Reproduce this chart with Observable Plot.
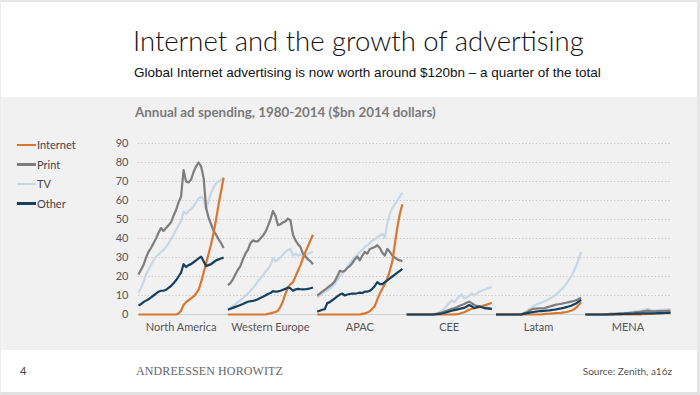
<!DOCTYPE html>
<html><head><meta charset="utf-8">
<script src="https://cdn.jsdelivr.net/npm/d3@7"></script>
<script src="https://cdn.jsdelivr.net/npm/@observablehq/plot@0.6"></script>
<style>
html,body{margin:0;padding:0;background:#fff;}
#slide{position:relative;width:700px;height:395px;overflow:hidden;background:#fff;}
#frame{position:absolute;left:0;top:0;width:700px;height:395px;box-sizing:border-box;border-top:2px solid #e6e6e6;border-left:1px solid #ececec;border-right:3px solid #e6e6e6;border-bottom:3px solid #e2e2e2;pointer-events:none;}
#title{position:absolute;left:133px;top:27px;font-family:Lato,"Open Sans",sans-serif;font-weight:300;font-size:27.5px;color:#111;line-height:1;white-space:nowrap;}
#subtitle{position:absolute;left:134px;top:66px;font-family:"Liberation Sans",Arial,sans-serif;font-size:13.5px;color:#111;line-height:1;white-space:nowrap;}
#band{position:absolute;left:0;top:97px;width:700px;height:253px;background:#f1f1f1;}
#ctitle{position:absolute;left:135px;top:106px;font-family:Lato,sans-serif;font-weight:700;font-size:13.4px;color:#7a7a7a;line-height:1;white-space:nowrap;}
#legend{position:absolute;left:17px;top:135px;font-family:Lato,sans-serif;font-size:11px;color:#444;}
#legend .item{display:flex;align-items:center;height:19.5px;}
#legend .sw{width:19px;height:2.5px;margin-right:1px;}
#chart{position:absolute;left:0;top:130px;}
#pnum{position:absolute;left:20px;top:364px;font-family:Lato,sans-serif;font-size:11px;color:#444;}
#brand{position:absolute;left:136px;top:364px;font-family:"Liberation Serif","DejaVu Serif",serif;font-size:12px;letter-spacing:0.1px;color:#666;white-space:nowrap;}
#source{position:absolute;right:28px;top:365px;font-family:Lato,sans-serif;font-size:10px;color:#555;white-space:nowrap;}
</style></head>
<body>
<div id="slide">
  <div id="band"></div>
  <div id="title">Internet and the growth of advertising</div>
  <div id="subtitle">Global Internet advertising is now worth around $120bn – a quarter of the total</div>
  <div id="ctitle">Annual ad spending, 1980-2014 ($bn 2014 dollars)</div>
  <div id="legend"></div>
  <div id="chart"></div>
  <div id="pnum">4</div>
  <div id="brand">ANDREESSEN HOROWITZ</div>
  <div id="source">Source: Zenith, a16z</div>
  <div id="frame"></div>
</div>
<script>
const regions = ["North America", "Western Europe", "APAC", "CEE", "Latam", "MENA"];
const seriesNames = ["Internet", "Print", "TV", "Other"];
const seriesColors = ["#d8772f", "#7d7d7d", "#c9d6e4", "#17405f"];
const drawOrder = ["TV", "Print", "Internet", "Other"];
const years = [1980,1981,1982,1983,1984,1985,1986,1987,1988,1989,1990,1991,1992,1993,1994,1995,1996,1997,1998,1999,2000,2001,2002,2003,2004,2005,2006,2007,2008,2009,2010,2011,2012,2013,2014];
const yTicks = [0,10,20,30,40,50,60,70,80,90];

// North America
const naInternet = [0,0,0,0,0,0,0,0,0,0,0,0,0,0,0,0,0.5,2,5,6.5,7.5,8.5,9.5,11,13,17,22,27,32,37,43,50,58,65,72];
const naPrint = [21,23.5,26,30,33,35,37.5,40,43,45.5,44,45.5,47,48.5,52,55,59,62,76,70,69.5,71,75,78,80,78,72,56,51,47.5,44,42,39.5,37.5,35];
const naTV = [11.5,14,17,21,23.5,26,28.5,30.5,31.5,33,34,35.5,37.5,39.5,42,44.5,47,49,54,53,54.5,55.5,57,59,61,62,61,55,60,64,67,69,70,71,72];
const naOther = [4.7,5.5,6.5,7.3,8,9,10,11,12,12.5,12.5,13,14,15,16.5,18,20,22,26.5,25,26,26.5,27.5,28.5,29.5,30.5,28,25.5,26,26.5,27.5,28.5,29,29.5,30];
// Western Europe
const weInternet = [0,0,0,0,0,0,0,0,0,0,0,0,0,0,0,0,0.3,0.6,1,1.3,2,4,7,11,14,16,17,20,23,26,29.5,33,36,39,42];
const wePrint = [15.5,16.5,18.5,21,23.5,25.5,29,32,34,37.5,39,38.5,38.5,40,41.5,43.5,46.5,50,54.5,52,47,47.5,48.5,49,50.5,49.5,42,39,37,35.5,32,30.5,29,28,26.5];
const weTV = [3,3.5,4.5,5.5,6.5,7.5,8.5,10,11,12.5,14,15.5,17.5,19,20.5,22.5,24,26,29.5,28,29,30,31.5,33,34,34.5,31,32,31,31.5,30.5,31,32,32.5,33];
const weOther = [2.5,3,3.5,4,4.5,5,5.5,6.2,6.7,7,7.2,7.5,8,8.7,9.3,10,10.8,11.3,12.3,12,12.2,12.5,13,13.5,14.2,13.8,12.5,13.2,13.5,13.3,13.2,13.3,13.5,13.8,14.2];
// APAC
const apInternet = [0,0,0,0,0,0,0,0,0,0,0,0,0,0,0,0,0,0,0.3,0.6,1,1.8,3,4.5,8,11,13.5,16,19,23,28,37,46,53,58];
const apPrint = [10,11,12,13,14,15,16,17.5,20,23,22.5,23,24.5,25.5,27,29,30.5,28.5,31,33,32,34.5,35,35.5,36.5,35,32.5,31,34.5,33,31,30,29,28.5,28];
const apTV = [9,10,11,12,12.5,13.5,14.5,16,18,20,21.5,23,25,27,28.5,30,31.5,33,34,35.5,36.5,37.5,39,39.5,40.5,41.5,42.5,40.5,48,53,56,58,60,62,64];
const apOther = [1.5,2,2.5,2.8,6,6.5,7.5,8.5,9.5,10.5,11,10,10.5,10.8,11,11,11.2,11.5,11.3,12,12,12.5,13.5,15,17,16,16,17,18,19,20,21,22,23,24];
// CEE
const ceeInternet = [0,0,0,0,0,0,0,0,0,0,0,0,0,0,0,0,0,0,0,0.1,0.2,0.4,0.8,1.2,1.8,2.5,3,3.3,3.6,3.9,4.3,4.8,5.2,5.7,6.2];
const ceePrint = [0,0,0,0,0,0,0,0,0,0,0,0.2,0.4,0.7,1,1.5,2,2.5,3,3.3,3.8,4.5,5,5.5,6.2,6.8,6,5,4.5,4.3,4,3.7,3.5,3.2,3];
const ceeTV = [0,0,0,0,0,0,0,0,0,0,0,0.3,0.7,1.2,1.8,3,4.5,6,7.5,6.5,8,9.5,10.5,8.5,9,10,11,10,11,12,12.5,13,13.5,14,14.5];
const ceeOther = [0,0,0,0,0,0,0,0,0,0,0,0,0.2,0.3,0.5,0.8,1.2,1.6,2,2.3,2.6,2.9,3.2,3.5,4.2,5,4.3,3.4,3.8,4.2,3.8,3.4,3.2,3.1,3];
// Latam
const latInternet = [0,0,0,0,0,0,0,0,0,0,0,0,0,0,0,0,0,0,0,0.2,0.3,0.4,0.5,0.6,0.7,0.8,0.9,1.1,1.3,1.6,2,2.6,3.6,5,6.5];
const latPrint = [0,0,0,0,0,0,0,0,0,0,0,0.5,1,1.8,2.5,3,3.1,3.2,3.2,3.3,3.6,4,4.4,4.8,5.2,5.4,5.6,5.9,6.2,6.5,6.8,7.1,7.5,8.2,8.8];
const latTV = [0,0,0,0,0,0,0,0,0,0,0.3,0.8,1.5,2.5,3.5,4.5,5.2,5.8,6.2,6.8,7.3,8,8.8,9.5,10.5,11.7,13,14.4,16,18,20,22.5,25.5,29,33];
const latOther = [0,0,0,0,0,0,0,0,0,0,0,0.3,0.6,0.9,1.1,1.3,1.5,1.7,1.8,1.9,2,2.1,2.3,2.5,2.7,3,3.2,3.5,3.9,4.2,4.6,5.2,5.8,6.8,7.7];
// MENA
const menaInternet = [0,0,0,0,0,0,0,0,0,0,0,0,0,0,0,0,0,0,0,0,0,0.05,0.1,0.15,0.2,0.3,0.35,0.4,0.5,0.6,0.7,0.8,0.9,1,1.2];
const menaPrint = [0,0,0,0,0,0,0,0,0.1,0.2,0.3,0.35,0.4,0.5,0.55,0.6,0.7,0.8,0.9,1,1.1,1.2,1.4,1.6,1.8,2,1.8,1.7,1.7,1.8,1.8,1.8,1.9,1.9,2];
const menaTV = [0,0,0,0,0,0,0,0,0.1,0.2,0.3,0.4,0.5,0.6,0.7,0.8,0.9,1,1.2,1.4,1.6,1.8,2,2.3,2.6,3,2.4,2.1,2.2,2.3,2.4,2.5,2.6,2.7,2.8];
const menaOther = [0,0,0,0,0,0,0,0,0,0,0.1,0.1,0.15,0.2,0.2,0.25,0.3,0.3,0.35,0.4,0.45,0.5,0.5,0.55,0.6,0.65,0.6,0.6,0.65,0.7,0.7,0.75,0.8,0.85,0.9];

const regionSeries = [
  [naInternet, naPrint, naTV, naOther],
  [weInternet, wePrint, weTV, weOther],
  [apInternet, apPrint, apTV, apOther],
  [ceeInternet, ceePrint, ceeTV, ceeOther],
  [latInternet, latPrint, latTV, latOther],
  [menaInternet, menaPrint, menaTV, menaOther]
];

// Layout: each region panel is placed side by side along one continuous x axis
const regionGap = 35.7; // year-units between panel starts
const span = years[years.length - 1] - years[0];

const rows = [];
regions.forEach((region, r) => {
  seriesNames.forEach((s, k) => {
    years.forEach((yr, i) => {
      rows.push({
        region, series: s,
        key: region + "|" + s,
        order: drawOrder.indexOf(s),
        x: r * regionGap + (yr - years[0]),
        value: regionSeries[r][k][i]
      });
    });
  });
});
rows.sort((a, b) => a.order - b.order);

const centers = regions.map((d, r) => r * regionGap + span / 2);

const chart = Plot.plot({
  width: 700,
  height: 210,
  marginLeft: 138,
  marginRight: 30,
  marginTop: 13,
  marginBottom: 26,
  style: {background: "transparent", fontFamily: "Lato, sans-serif", fontSize: "11px", color: "#555"},
  x: {domain: [0, (regions.length - 1) * regionGap + span], ticks: centers, tickFormat: d => regions[Math.round((d - span / 2) / regionGap)], tickSize: 0, tickPadding: 9, label: null},
  y: {domain: [0, 90], ticks: yTicks, tickSize: 0, tickPadding: 10, label: null},
  color: {domain: seriesNames, range: seriesColors},
  marks: [
    Plot.ruleY(yTicks.filter(d => d > 0), {stroke: "#c4c4c4", strokeDasharray: "1.2,2.2", strokeWidth: 1}),
    Plot.ruleY([0], {stroke: "#cfcfcf", strokeWidth: 1}),
    Plot.line(rows, {x: "x", y: "value", z: "key", stroke: "series", strokeWidth: 2.2, strokeLinejoin: "round", strokeLinecap: "butt"})
  ]
});
document.getElementById("chart").appendChild(chart);

const legend = document.getElementById("legend");
seriesNames.forEach((s, i) => {
  const item = document.createElement("div");
  item.className = "item";
  const sw = document.createElement("div");
  sw.className = "sw";
  sw.style.background = seriesColors[i];
  const lab = document.createElement("span");
  lab.textContent = s;
  item.appendChild(sw); item.appendChild(lab);
  legend.appendChild(item);
});
</script>
</body></html>
